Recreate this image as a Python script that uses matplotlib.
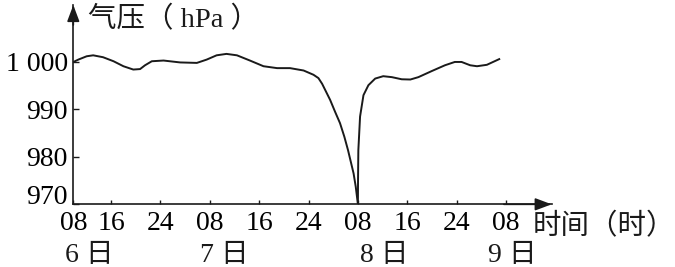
import matplotlib
matplotlib.use('Agg')
import matplotlib.pyplot as plt

# hours after 08:00 on the 6th, pressure in hPa
hours = [1.9, 2.7, 4.05, 5.1, 6.7, 8.4, 10.0, 11.6, 12.7, 13.5, 14.6, 16.5,
         19.2, 21.9, 23.5, 25.1, 26.7, 28.4, 30.5, 32.7, 34.9, 37.0, 39.2,
         40.8, 41.6, 42.2, 43.5, 44.3, 45.1, 45.8, 46.4, 47.3, 47.65, 48.0,
         48.02, 48.07, 48.35, 48.9, 49.7, 50.8, 52.1, 53.5, 55.1, 56.5, 57.8,
         60.0, 62.1, 63.7, 64.8, 66.2, 67.3, 68.9, 70.9]
pressure = [1000.0, 1000.5, 1001.2, 1001.4, 1001.0, 1000.15, 999.1, 998.4, 998.5, 999.3, 1000.15, 1000.3,
            999.9, 999.8, 1000.5, 1001.4, 1001.7, 1001.4, 1000.3, 999.1, 998.7, 998.7, 998.2,
            997.3, 996.6, 995.4, 992.0, 989.5, 987.1, 984.25, 981.4, 976.5, 973.7, 970.0,
            975.1, 981.4, 988.5, 993.0, 995.1, 996.5, 997.0, 996.8, 996.35, 996.3, 996.8,
            998.1, 999.3, 1000.0, 1000.0, 999.3, 999.1, 999.4, 1000.6]

x_ticks = [1.9, 8, 16, 24, 32, 40, 48, 56, 64, 72]
x_tick_labels = ['08', '16', '24', '08', '16', '24', '08', '16', '24', '08']
day_ticks = [1.9, 24, 48, 72]
day_labels = ['6 日', '7 日', '8 日', '9 日']
y_ticks = [970, 980, 990, 1000]
y_tick_labels = ['970', '980', '990', '1 000']

# small hand nudges (points) for the day labels, as in the printed figure
day_nudge = [-6, -7, 1.5, -13]

plt.rcParams['font.family'] = ['Liberation Serif', 'Noto Sans CJK SC']
ink = '#1a1a1a'
fs = 20

fig = plt.figure(figsize=(6.75, 2.67), dpi=100)
ax = fig.add_axes([0.1086, 0.2348, 0.7087, 0.7464])

ax.plot(hours, pressure, color=ink, lw=1.4, solid_joinstyle='round')

ax.set_xlim(1.88, 79.4)
ax.set_ylim(970, 1012.0)

for side in ['top', 'right']:
    ax.spines[side].set_visible(False)
for side in ['left', 'bottom']:
    ax.spines[side].set_linewidth(1.2)
    ax.spines[side].set_color(ink)

# arrow heads on the two axes
head = dict(arrowstyle='-|>,head_length=0.4,head_width=0.15', mutation_scale=25,
            lw=1.2, color=ink, shrinkA=0, shrinkB=0)
ax.annotate('', xy=(0, 1), xytext=(0, 0.9), xycoords='axes fraction', arrowprops=head)
ax.annotate('', xy=(1, 0), xytext=(0.9, 0), xycoords='axes fraction', arrowprops=head)

ax.set_xticks(x_ticks)
ax.set_xticklabels(x_tick_labels, fontsize=fs)
ax.set_yticks(y_ticks)
ax.set_yticklabels(y_tick_labels, fontsize=fs)
ax.tick_params(axis='x', direction='in', length=3.2, width=1, color=ink, pad=5)
ax.tick_params(axis='y', direction='in', length=4, width=1, color=ink, pad=4)
ax.get_yticklabels()[0].set_verticalalignment('baseline')

for d, lab, dx in zip(day_ticks, day_labels, day_nudge):
    ax.annotate(lab, xy=(d, 0), xycoords=('data', 'axes fraction'),
                xytext=(dx, -37), textcoords='offset points',
                ha='left', va='center', fontsize=fs, color=ink)

fig.text(88 / 675, 1 - 20 / 267, '气压（ hPa ）', ha='left', va='center', fontsize=20.5, color=ink)
fig.text(533 / 675, 1 - 227 / 267, '时间（时）', ha='left', va='center', fontsize=20.5, color=ink)

fig.savefig('out.png', dpi=100)
